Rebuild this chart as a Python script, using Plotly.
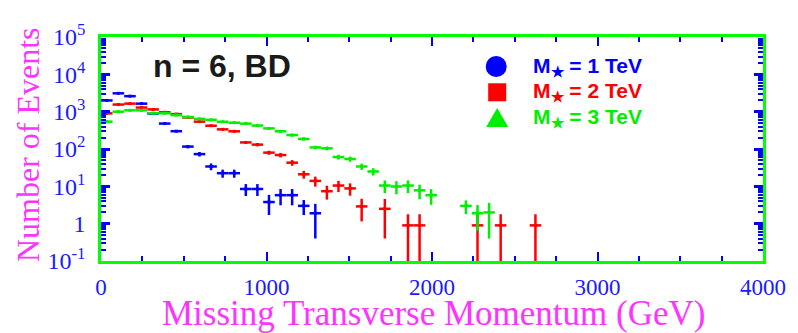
import plotly.graph_objects as go

# ---------------- data ----------------
blue_x = [35, 105, 175, 245, 315, 385, 455, 525, 595, 665, 735, 805, 875, 945,
          1015, 1085, 1155, 1225, 1295]
blue_y = [2000, 3100, 2600, 1640, 890, 480, 300, 116, 73, 34, 22.5, 22.5, 8.5, 8.5,
          3.8, 5.8, 5.8, 3.0, 1.9]
blue_err = [50, 65, 60, 45, 35, 25, 20, 12, 10, 7, 5.5, 5.5, 3.0, 3.0,
            2.1, 2.7, 2.7, 1.3, 1.5]

red_x = [35, 105, 175, 245, 315, 385, 455, 525, 595, 665, 735, 805, 875, 945,
         1015, 1085, 1155, 1225, 1295, 1365, 1435, 1505, 1575, 1715, 1855, 1925,
         2275, 2415, 2625]
red_y = [900, 1550, 1640, 1290, 1150, 965, 860, 700, 540, 420, 336, 298, 150, 131,
         80, 69, 43, 21, 14, 7.4, 10.5, 8.8, 2.9, 2.5, 0.9, 0.9,
         0.9, 0.9, 0.9]
red_err = [35, 45, 45, 40, 38, 35, 33, 30, 26, 23, 21, 20, 14, 13,
           10, 9.5, 7.5, 5, 4.2, 3, 3.5, 3.2, 1.75, 2.1, 0.9, 0.9,
           0.9, 0.9, 0.9]

green_x = [35, 105, 175, 245, 315, 385, 455, 525, 595, 665, 735, 805, 875, 945,
           1015, 1085, 1155, 1225, 1295, 1365, 1435, 1505, 1575, 1645, 1715, 1785,
           1855, 1925, 1995, 2205, 2275, 2345]
green_y = [540, 1000, 1087, 1087, 910, 910, 810, 720, 640, 604, 537, 506, 478, 425,
           356, 298, 236, 186, 110, 104, 61, 54, 34, 25, 10.5, 9.9,
           10.5, 7.8, 5.8, 3.0, 1.9, 2.0]
green_err = [30, 35, 38, 38, 35, 35, 33, 31, 29, 28, 26, 26, 25, 24,
             22, 20, 18, 16, 12, 12, 9, 8.5, 6.5, 5.5, 3.9, 3.8,
             3.9, 3.3, 2.6, 1.2, 1.25, 1.6]

bin_half_width = 35

series_names = ["M<sub>★</sub> = 1 TeV", "M<sub>★</sub> = 2 TeV", "M<sub>★</sub> = 3 TeV"]
series_colors = ["#0000ff", "#ff0000", "#00ee00"]

x_tick_vals = [0, 1000, 2000, 3000, 4000]
x_tick_text = ["0", "1000", "2000", "3000", "4000"]
y_tick_vals = [0.1, 1, 10, 100, 1000, 10000, 100000]
y_tick_text = ["10<sup>-1</sup>", "1", "10<sup>1</sup>", "10<sup>2</sup>",
               "10<sup>3</sup>", "10<sup>4</sup>", "10<sup>5</sup>"]

# ---------------- figure ----------------
fig = go.Figure()
for xs, ys, es, col in [(blue_x, blue_y, blue_err, series_colors[0]),
                        (red_x, red_y, red_err, series_colors[1]),
                        (green_x, green_y, green_err, series_colors[2])]:
    fig.add_trace(go.Scatter(
        x=xs, y=ys, mode="markers",
        marker=dict(color=col, size=3, symbol="square"),
        error_y=dict(type="data", array=es, color=col, thickness=2.5, width=0),
        error_x=dict(type="constant", value=bin_half_width, color=col,
                     thickness=2.5, width=0),
        showlegend=False, cliponaxis=True))

minor_y = [m * 10 ** e for e in range(-1, 5) for m in range(2, 10)]

axis_font = dict(family="Liberation Serif", size=23, color="#1a1aff")
fig.update_xaxes(
    range=[0, 4000], tickmode="array", tickvals=x_tick_vals, ticktext=x_tick_text,
    ticks="inside", ticklen=9, tickwidth=2, tickcolor="#0000ff",
    showline=True, linecolor="#00ff00", linewidth=2.5, mirror="ticks",
    showgrid=False, zeroline=False, tickfont=axis_font, ticklabelstandoff=4,
    minor=dict(tickvals=[v for v in range(250, 4000, 250) if v % 1000],
               ticks="inside", ticklen=5, tickwidth=2, tickcolor="#0000ff",
               showgrid=False))
fig.update_yaxes(
    type="log", range=[-1, 5], tickmode="array", tickvals=y_tick_vals,
    ticktext=y_tick_text,
    ticks="inside", ticklen=9, tickwidth=3, tickcolor="#0000ff",
    showline=True, linecolor="#00ff00", linewidth=2.5, mirror="ticks",
    showgrid=False, zeroline=False, tickfont=dict(family="Liberation Serif", size=24,
                                                  color="#1a1aff"),
    ticklabelstandoff=8,
    minor=dict(tickvals=minor_y, ticks="inside", ticklen=5, tickwidth=2,
               tickcolor="#0000ff", showgrid=False))

# page body has an 8px margin: compensate so the plot lands where the reference has it
OFF = 8
PL, PR, PT, PB = 101, 766, 26, 261          # plot-area edges in screenshot pixels
W, H = 798 - OFF, 333 - OFF
L, T = PL - OFF, PT - OFF
R = W - (PR - OFF)
B = H - (PB - OFF)
pw, ph = PR - PL, PB - PT


def px(xs):
    return (xs - PL) / pw


def py(ys):
    return (PB - ys) / ph


annotations = [
    dict(text="Number of Events", x=px(27), y=py(139), xref="paper", yref="paper",
         textangle=-90, showarrow=False, xanchor="center", yanchor="middle",
         font=dict(family="Liberation Serif", size=32, color="#ff33ff")),
    dict(text="Missing Transverse Momentum (GeV)", x=px(435), y=py(316),
         xref="paper", yref="paper", showarrow=False, xanchor="center",
         yanchor="middle",
         font=dict(family="Liberation Serif", size=35, color="#ff33ff")),
    dict(text="<b>n = 6, BD</b>", x=px(151), y=py(56), xref="paper", yref="paper",
         showarrow=False, xanchor="left", yanchor="middle",
         font=dict(family="Liberation Sans", size=32, color="#1a1a1a")),
]
for i, (name, col) in enumerate(zip(series_names, series_colors)):
    annotations.append(dict(
        text="<b>" + name + "</b>", x=px(533), y=py(57 + 27 * i),
        xref="paper", yref="paper", showarrow=False, xanchor="left",
        yanchor="middle",
        font=dict(family="Liberation Sans", size=21, color=col)))

shapes = [
    dict(type="circle", xref="paper", yref="paper", xsizemode="pixel",
         ysizemode="pixel", xanchor=px(498), yanchor=py(57),
         x0=-10.5, x1=10.5, y0=-10.5, y1=10.5,
         fillcolor=series_colors[0], line=dict(width=0)),
    dict(type="rect", xref="paper", yref="paper", xsizemode="pixel",
         ysizemode="pixel", xanchor=px(499), yanchor=py(84),
         x0=-9, x1=9, y0=-9, y1=9,
         fillcolor=series_colors[1], line=dict(width=0)),
    dict(type="path", xref="paper", yref="paper", xsizemode="pixel",
         ysizemode="pixel", xanchor=px(499), yanchor=py(111),
         path="M -11,-9 L 11,-9 L 0,10 Z",
         fillcolor=series_colors[2], line=dict(width=0)),
]

fig.update_layout(
    width=W, height=H, margin=dict(l=L, r=R, t=T, b=B),
    paper_bgcolor="white", plot_bgcolor="white",
    annotations=annotations, shapes=shapes, showlegend=False)

fig.write_html("out.html")
